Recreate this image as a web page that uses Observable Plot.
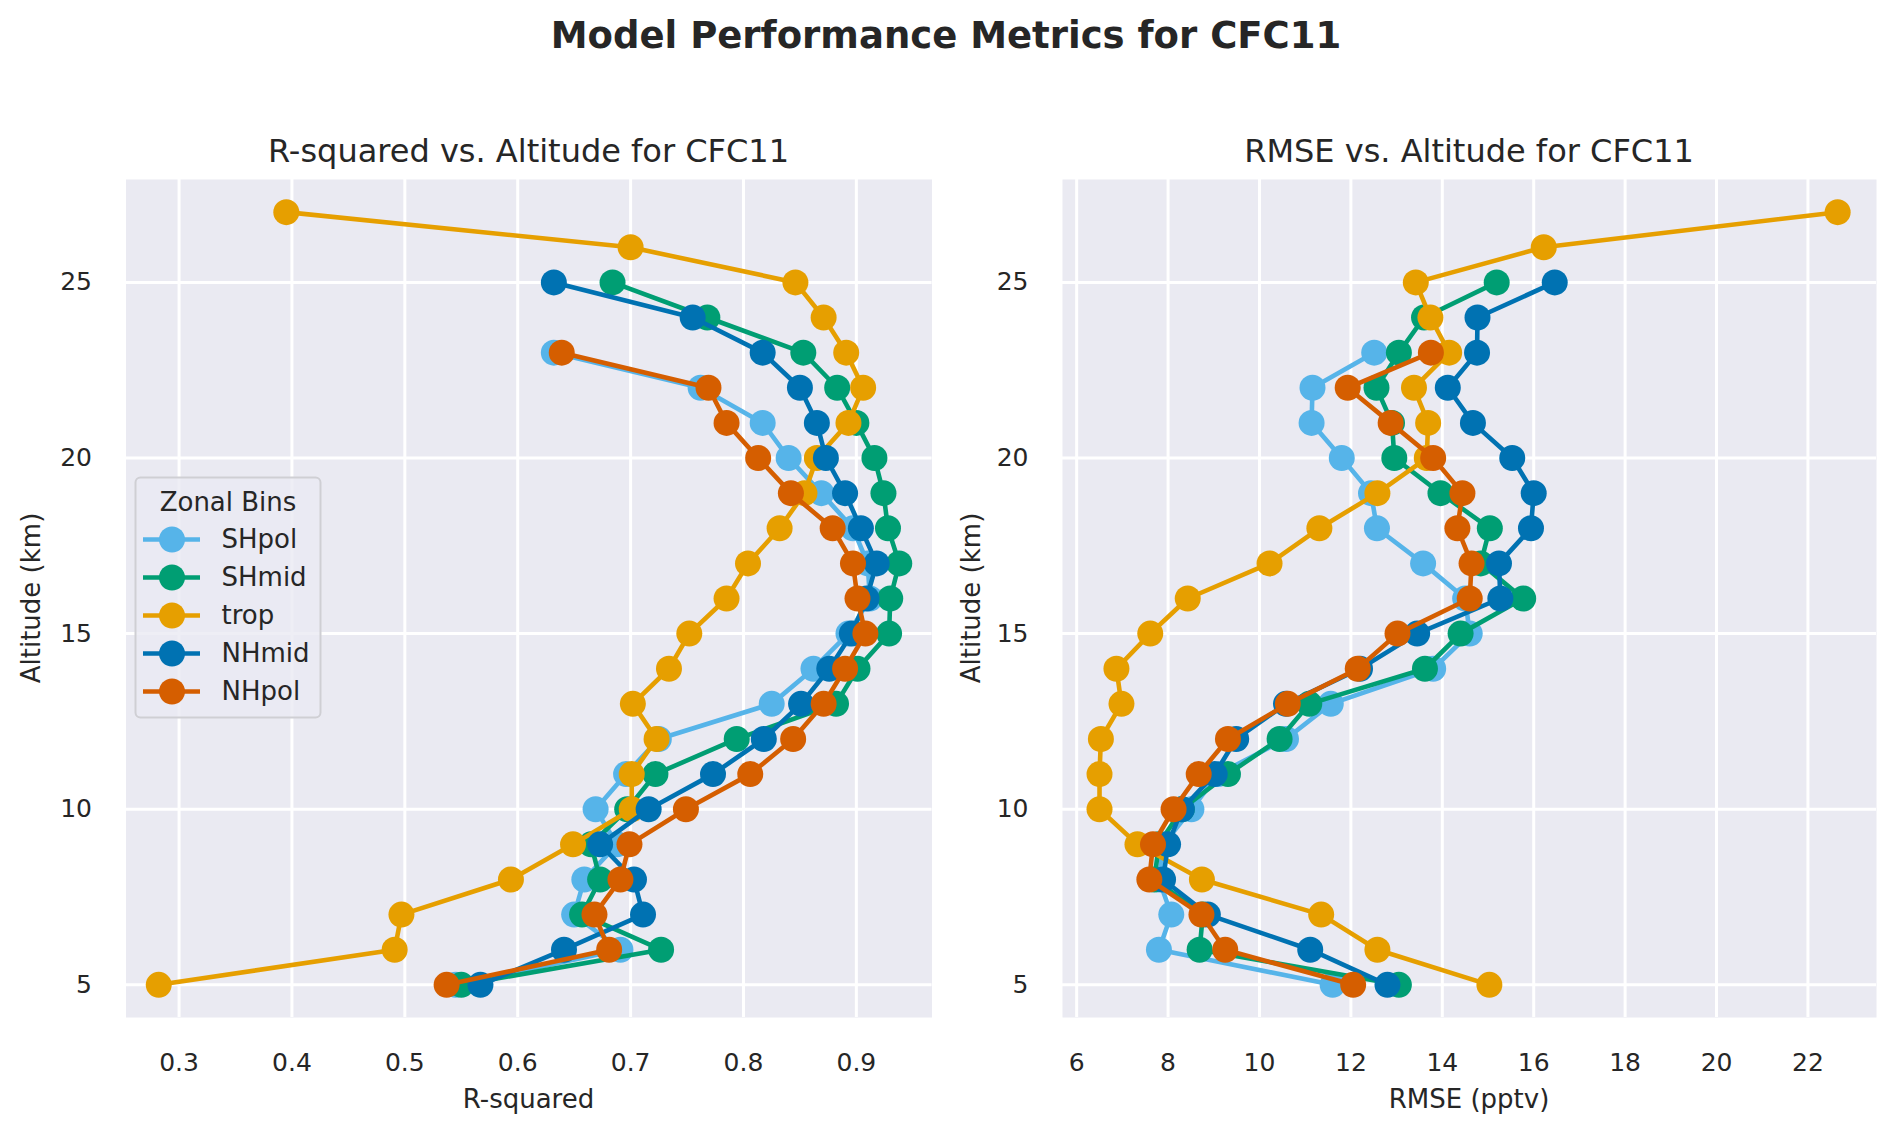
<!DOCTYPE html>
<html><head><meta charset="utf-8">
<script src="https://cdn.jsdelivr.net/npm/d3@7"></script>
<script src="https://cdn.jsdelivr.net/npm/@observablehq/plot@0.6"></script>
<style>
body{margin:0;background:#fff;font-family:"DejaVu Sans",sans-serif;}
#fig{position:relative;width:1892px;height:1133px;overflow:hidden;background:#fff;}
.abs{position:absolute;}
</style></head><body>
<div id="fig">
  <div id="left" class="abs" style="left:0;top:0"></div>
  <div id="right" class="abs" style="left:946px;top:0"></div>
  <div id="legend" class="abs" style="left:134px;top:476px"></div>
  <svg class="abs" width="1892" height="1133" style="left:0;top:0;pointer-events:none" font-family="DejaVu Sans" fill="#262626">
    <text x="946" y="48" text-anchor="middle" font-size="37" font-weight="bold">Model Performance Metrics for CFC11</text>
    <text x="528.5" y="162" text-anchor="middle" font-size="32">R-squared vs. Altitude for CFC11</text>
    <text x="1469" y="162" text-anchor="middle" font-size="32">RMSE vs. Altitude for CFC11</text>
    <text x="528.5" y="1108" text-anchor="middle" font-size="26">R-squared</text>
    <text x="1469" y="1108" text-anchor="middle" font-size="26">RMSE (pptv)</text>
    <text transform="translate(31,598) rotate(-90)" text-anchor="middle" dominant-baseline="central" font-size="26">Altitude (km)</text>
    <text transform="translate(971,598) rotate(-90)" text-anchor="middle" dominant-baseline="central" font-size="26">Altitude (km)</text>
  </svg>
</div>
<script>
// ---- data ----
const seriesNames = ["SHpol", "SHmid", "trop", "NHmid", "NHpol"];
const seriesColors = ["#56B4E9", "#009E73", "#E69F00", "#0072B2", "#D55E00"];

const altPol = [5, 6, 7, 8, 9, 10, 11, 12, 13, 14, 15, 16, 17, 18, 19, 20, 21, 22, 23];
const altMid = [5, 6, 7, 8, 9, 10, 11, 12, 13, 14, 15, 16, 17, 18, 19, 20, 21, 22, 23, 24, 25];
const altTrop = [5, 6, 7, 8, 9, 10, 11, 12, 13, 14, 15, 16, 17, 18, 19, 20, 21, 22, 23, 24, 25, 26, 27];

const r2SHpol = [0.545, 0.691, 0.650, 0.659, 0.688, 0.669, 0.696, 0.725, 0.825, 0.862, 0.893, 0.912, 0.910, 0.897, 0.869, 0.840, 0.817, 0.762, 0.632];
const r2SHmid = [0.550, 0.727, 0.657, 0.673, 0.665, 0.697, 0.722, 0.794, 0.882, 0.901, 0.929, 0.930, 0.938, 0.928, 0.924, 0.916, 0.900, 0.883, 0.853, 0.768, 0.684];
const r2Trop  = [0.282, 0.491, 0.497, 0.594, 0.649, 0.701, 0.701, 0.723, 0.702, 0.734, 0.752, 0.785, 0.804, 0.832, 0.854, 0.865, 0.893, 0.906, 0.891, 0.871, 0.846, 0.700, 0.395];
const r2NHmid = [0.567, 0.641, 0.711, 0.703, 0.673, 0.716, 0.773, 0.818, 0.851, 0.876, 0.896, 0.909, 0.918, 0.904, 0.890, 0.873, 0.865, 0.850, 0.817, 0.755, 0.632];
const r2NHpol = [0.537, 0.681, 0.668, 0.691, 0.699, 0.749, 0.806, 0.844, 0.871, 0.890, 0.908, 0.901, 0.897, 0.879, 0.842, 0.813, 0.785, 0.769, 0.639];

const rmseSHpol = [11.60, 7.80, 8.07, 7.80, 7.90, 8.51, 9.10, 10.58, 11.56, 13.80, 14.60, 14.50, 13.58, 12.57, 12.44, 11.80, 11.14, 11.16, 12.51];
const rmseSHmid = [13.05, 8.69, 8.76, 7.70, 7.80, 8.30, 9.31, 10.44, 11.09, 13.62, 14.40, 15.77, 14.84, 15.04, 13.96, 12.95, 12.90, 12.56, 13.05, 13.60, 15.19];
const rmseTrop  = [15.03, 12.58, 11.35, 8.74, 7.33, 6.50, 6.50, 6.53, 6.98, 6.87, 7.61, 8.43, 10.22, 11.31, 12.58, 13.66, 13.69, 13.38, 14.15, 13.74, 13.42, 16.22, 22.65];
const rmseNHmid = [12.80, 11.11, 8.87, 7.89, 8.00, 8.30, 9.02, 9.49, 10.58, 12.20, 13.45, 15.27, 15.24, 15.94, 16.00, 15.53, 14.67, 14.12, 14.76, 14.77, 16.46];
const rmseNHpol = [12.05, 9.25, 8.73, 7.59, 7.67, 8.12, 8.67, 9.31, 10.62, 12.15, 13.02, 14.60, 14.64, 14.33, 14.44, 13.80, 12.87, 11.93, 13.75];

const yTicks = [5, 10, 15, 20, 25];
const r2Ticks = [0.3, 0.4, 0.5, 0.6, 0.7, 0.8, 0.9];
const rmseTicks = [6, 8, 10, 12, 14, 16, 18, 20, 22];

// ---- tables ----
const seriesAlt = {SHpol: altPol, SHmid: altMid, trop: altTrop, NHmid: altMid, NHpol: altPol};
const seriesR2 = {SHpol: r2SHpol, SHmid: r2SHmid, trop: r2Trop, NHmid: r2NHmid, NHpol: r2NHpol};
const seriesRmse = {SHpol: rmseSHpol, SHmid: rmseSHmid, trop: rmseTrop, NHmid: rmseNHmid, NHpol: rmseNHpol};
const tables = seriesNames.map(z => seriesAlt[z].map((a, i) => ({zone: z, alt: a, r2: seriesR2[z][i], rmse: seriesRmse[z][i]})));

const ink = "#262626";
function panel(key, xDomain, xTicks, fmt, ml, mr) {
  return Plot.plot({
    width: 946, height: 1133,
    marginLeft: ml, marginRight: mr, marginTop: 179, marginBottom: 116,
    style: {background: "transparent", fontFamily: "DejaVu Sans", fontSize: "25px", color: ink, overflow: "visible"},
    x: {domain: xDomain},
    y: {domain: [4.07, 27.93]},
    color: {domain: seriesNames, range: seriesColors},
    marks: [
      Plot.frame({fill: "#EAEAF2", stroke: "none"}),
      Plot.gridX(xTicks, {stroke: "white", strokeOpacity: 1, strokeWidth: 3}),
      Plot.gridY(yTicks, {stroke: "white", strokeOpacity: 1, strokeWidth: 3}),
      Plot.axisX(xTicks, {tickSize: 0, tickPadding: 36, fontSize: 25, fill: ink, tickFormat: fmt, label: null}),
      Plot.axisY(yTicks, {tickSize: 0, tickPadding: 34, fontSize: 25, fill: ink, label: null}),
      ...tables.flatMap(t => [
        Plot.line(t, {x: key, y: "alt", stroke: "zone", strokeWidth: 4.6}),
        Plot.dot(t, {x: key, y: "alt", fill: "zone", r: 13})
      ])
    ]
  });
}

document.getElementById("left").append(panel("r2", [0.253, 0.967], r2Ticks, d => d.toFixed(1), 125.5, 14.5));
document.getElementById("right").append(panel("rmse", [5.69, 23.5], rmseTicks, d => String(d), 116, 16));

const legend = Plot.plot({
  width: 187, height: 242, margin: 0,
  style: {background: "transparent", fontFamily: "DejaVu Sans", fontSize: "26px", color: ink, overflow: "visible"},
  x: {domain: [0, 1], range: [9, 66], axis: null},
  y: {type: "point", domain: seriesNames, range: [62, 216], padding: 0, axis: null},
  color: {domain: seriesNames, range: seriesColors},
  marks: [
    Plot.frame({fill: "#EAEAF2", fillOpacity: 0.8, stroke: "#cfcfd4", strokeWidth: 2, rx: 5, inset: 1}),
    Plot.text(["Zonal Bins"], {frameAnchor: "top", dy: 26, lineAnchor: "middle", fontSize: 26, fill: ink}),
    Plot.ruleY(seriesNames, {y: d => d, x1: 0, x2: 1, stroke: d => d, strokeWidth: 4.6}),
    Plot.dot(seriesNames, {x: 0.5, y: d => d, fill: d => d, r: 13}),
    Plot.text(seriesNames, {x: 1, y: d => d, text: d => d, dx: 21, textAnchor: "start", fontSize: 26, fill: ink})
  ]
});
document.getElementById("legend").append(legend);
</script>
</body></html>
